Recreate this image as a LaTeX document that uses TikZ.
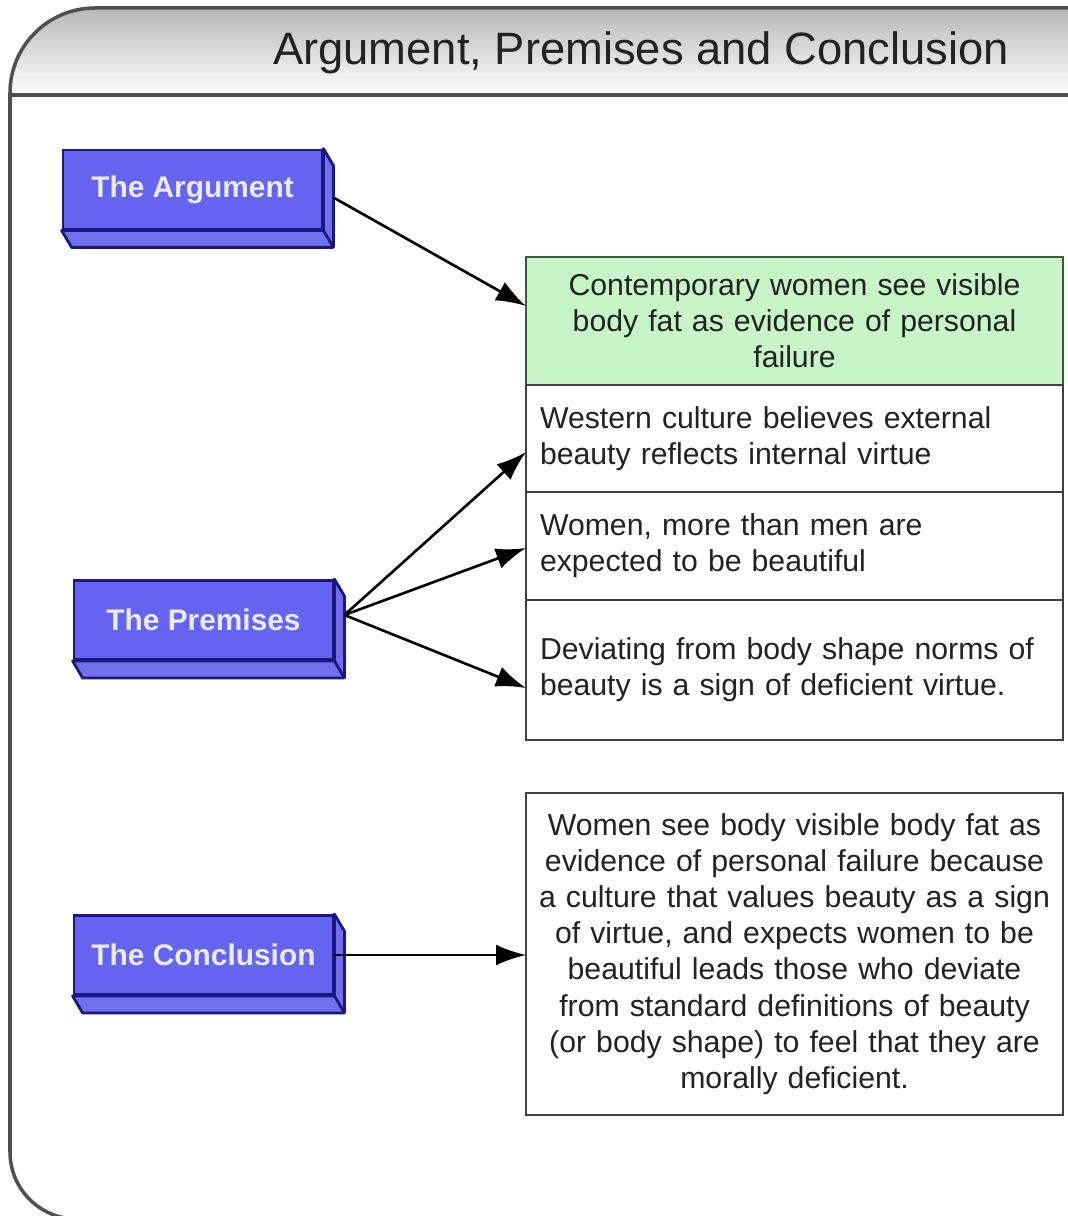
\documentclass[tikz,border=0pt]{standalone}
\usepackage{fontspec}
\setmainfont{Liberation Sans}
\usetikzlibrary{arrows.meta,calc,positioning}
\definecolor{slabblue}{RGB}{100,100,240}
\definecolor{slabside}{RGB}{112,112,236}
\definecolor{slabedge}{RGB}{24,24,128}
\definecolor{slabtext}{RGB}{234,234,250}
\definecolor{framegray}{RGB}{80,80,80}
\definecolor{leafgreen}{RGB}{200,245,200}
\definecolor{leafedge}{RGB}{60,90,60}
\definecolor{inkgray}{RGB}{34,34,34}

\begin{document}
\begin{tikzpicture} [
	slab/.style = {draw = slabedge, line width = 0.8pt, fill = slabblue, text = slabtext, font = \bfseries\fontsize{8.5}{10}\selectfont, minimum width = 2.59cm, minimum height = 0.79cm, inner sep = 0pt},
	leaf/.style = {draw = black!75, line width = 0.6pt, fill = white, text = inkgray, font = \fontsize{8.6}{10.3}\selectfont, inner xsep = 0.14cm, inner ysep = 0pt, text width = 5.09cm, outer sep = 0pt},
	link/.style = {line width = 0.75pt, -{Latex[length = 0.30cm, width = 0.21cm]}}
	]
	\useasboundingbox (0,0) rectangle (10.67,-12.16);
	% frame and header
	\shade [top color = black!28, bottom color = white] (0.10,-0.95) -- (0.10,-0.93) arc [start angle = 180, end angle = 90, radius = 0.85] -- (11,-0.08) -- (11,-0.95) -- cycle;
	\draw [framegray, line width = 1pt] (11,-0.08) -- (0.95,-0.08) arc [start angle = 90, end angle = 180, radius = 0.85] -- (0.10,-11.52) arc [start angle = 180, end angle = 270, radius = 0.67] -- (11,-12.19);
	\draw [framegray, line width = 1pt] (0.10,-0.95) -- (11,-0.95);
	\node [text = inkgray, font = \fontsize{12.9}{15}\selectfont] (title) at (6.41,-0.53) {Argument, Premises and Conclusion};
	% left blocks
	\node [slab] (argument) at (1.925,-1.895) {The Argument};
	\node [slab] (premises) at (2.035,-6.20) {The Premises};
	\node [slab] (conclusion) at (2.035,-9.55) {The Conclusion};
	\foreach \s in {argument, premises, conclusion}
		\draw [draw = slabedge, fill = slabside, line width = 0.8pt, line join = round] (\s.north east) -- ++(0.10,-0.17) -- ($(\s.south east) + (0.10,-0.17)$) -- ($(\s.south west) + (0.10,-0.17)$) -- (\s.south west) -- (\s.south east) -- cycle (\s.south east) -- ++(0.10,-0.17);
	% right boxes
	\node [leaf, fill = leafgreen, draw = leafedge, align = center, minimum height = 1.28cm, anchor = north west] (claim) at (5.26,-2.57) {Contemporary women see visible\\body fat as evidence of personal\\failure};
	\node [leaf, align = left, minimum height = 1.07cm, below = 0pt of claim] (premA) {Western culture believes external\\beauty reflects internal virtue};
	\node [leaf, align = left, minimum height = 1.08cm, below = 0pt of premA] (premB) {Women, more than men are\\expected to be beautiful};
	\node [leaf, align = left, minimum height = 1.40cm, below = 0pt of premB] (premC) {Deviating from body shape norms of\\beauty is a sign of deficient virtue.};
	\node [leaf, align = center, inner xsep = 0.03cm, text width = 5.31cm, minimum height = 3.22cm, anchor = north west] (verdict) at (5.26,-7.93) {Women see body visible body fat as\\evidence of personal failure because\\a culture that values beauty as a sign\\of virtue, and expects women to be\\beautiful leads those who deviate\\from standard definitions of beauty\\(or body shape) to feel that they are\\morally deficient.};
	% arrows
	\coordinate (argument-out) at ($(argument.east) + (0.10,-0.08)$);
	\coordinate (premises-out) at ($(premises.east) + (0.10,0.05)$);
	\draw [link] (argument-out) -- ([yshift = 0.15cm] claim.west);
	\draw [link] (premises-out) -- ([yshift = -0.135cm] premA.west);
	\draw [link] (premises-out) -- ([yshift = -0.02cm] premB.west);
	\draw [link] (premises-out) -- ([yshift = -0.18cm] premC.west);
	\draw [link] (conclusion.east) -- (conclusion.east -| verdict.west);
\end{tikzpicture}
\end{document}
